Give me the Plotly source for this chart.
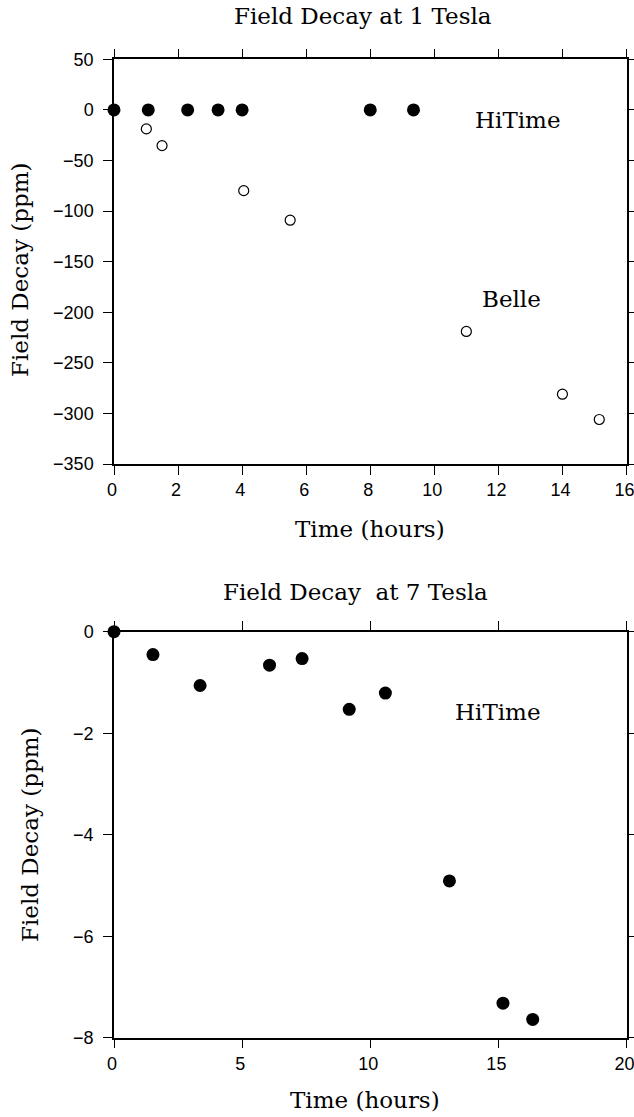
import plotly.graph_objects as go

# Top panel: Field decay at 1 Tesla
hitime1_x = [0, 1.07, 2.3, 3.25, 4.0, 8.0, 9.35]
hitime1_y = [0, 0, 0, 0, 0, 0, 0]
belle_x = [1.01, 1.5, 4.05, 5.5, 11.0, 14.0, 15.15]
belle_y = [-18.8, -35.3, -79.8, -109, -219, -281, -306]

# Bottom panel: Field decay at 7 Tesla
hitime7_x = [0, 1.52, 3.36, 6.07, 7.34, 9.18, 10.59, 13.09, 15.18, 16.34]
hitime7_y = [0, -0.45, -1.06, -0.66, -0.53, -1.53, -1.21, -4.91, -7.32, -7.64]

top_xticks = [0, 2, 4, 6, 8, 10, 12, 14, 16]
top_yticks = [50, 0, -50, -100, -150, -200, -250, -300, -350]
bot_xticks = [0, 5, 10, 15, 20]
bot_yticks = [0, -2, -4, -6, -8]

W, H = 634, 1117
serif = "DejaVu Serif"
tickfont = dict(family="Liberation Sans, Arial", size=18, color="black")

fig = go.Figure()
fig.add_trace(go.Scatter(x=hitime1_x, y=hitime1_y, mode="markers", xaxis="x", yaxis="y",
                         marker=dict(symbol="circle", size=13, color="black"), showlegend=False,
                         cliponaxis=False))
fig.add_trace(go.Scatter(x=belle_x, y=belle_y, mode="markers", xaxis="x", yaxis="y",
                         marker=dict(symbol="circle-open", size=10, color="black", line=dict(width=1.2)),
                         showlegend=False, cliponaxis=False))
fig.add_trace(go.Scatter(x=hitime7_x, y=hitime7_y, mode="markers", xaxis="x2", yaxis="y2",
                         marker=dict(symbol="circle", size=13, color="black"), showlegend=False,
                         cliponaxis=False))

xd = [114 / W, 626.5 / W]
axis_common = dict(showgrid=False, zeroline=False, showline=True, linecolor="black", linewidth=1.5,
                   ticks="outside", ticklen=9, tickwidth=1.2, tickcolor="black", mirror="ticks",
                   tickfont=tickfont, automargin=False, ticklabeloverflow="allow")

fig.update_layout(
    width=W, height=H,
    margin=dict(l=0, r=0, t=0, b=0, autoexpand=False),
    paper_bgcolor="white", plot_bgcolor="white",
    xaxis=dict(domain=xd, range=[0, 16], tickvals=top_xticks, anchor="y",
               ticklabelshift=-2, **axis_common),
    yaxis=dict(domain=[1 - 464 / H, 1 - 59.3 / H], range=[-350, 50], tickvals=top_yticks,
               anchor="x", ticklabelstandoff=6, **axis_common),
    xaxis2=dict(domain=xd, range=[0, 20], tickvals=bot_xticks, anchor="y2",
                ticklabelshift=-2, **axis_common),
    yaxis2=dict(domain=[1 - 1037.7 / H, 1 - 631.7 / H], range=[-8, 0], tickvals=bot_yticks,
                anchor="x2", ticklabelstandoff=6, **axis_common),
)

tf = dict(family=serif, size=23, color="black")
ann = [
    dict(text="Field Decay at 1 Tesla", x=363 / W, y=1 - 16 / H),
    dict(text="Time (hours)", x=370 / W, y=1 - 529 / H),
    dict(text="Field Decay (ppm)", x=20 / W, y=1 - 270 / H, textangle=-90),
    dict(text="Field Decay  at 7 Tesla", x=355 / W, y=1 - 592 / H),
    dict(text="Time (hours)", x=365 / W, y=1 - 1100 / H),
    dict(text="Field Decay (ppm)", x=30 / W, y=1 - 835 / H, textangle=-90),
]
for a in ann:
    fig.add_annotation(xref="paper", yref="paper", showarrow=False, font=tf,
                       xanchor="center", yanchor="middle", **a)

fig.add_annotation(xref="x", yref="y", x=12.6, y=-10, text="HiTime", showarrow=False, font=tf)
fig.add_annotation(xref="x", yref="y", x=12.4, y=-187, text="Belle", showarrow=False, font=tf)
fig.add_annotation(xref="x2", yref="y2", x=15.0, y=-1.58, text="HiTime", showarrow=False, font=tf)

fig.write_html("out.html", config={"displayModeBar": False},
               post_script="document.body.style.margin='0';document.body.style.overflow='hidden';")
